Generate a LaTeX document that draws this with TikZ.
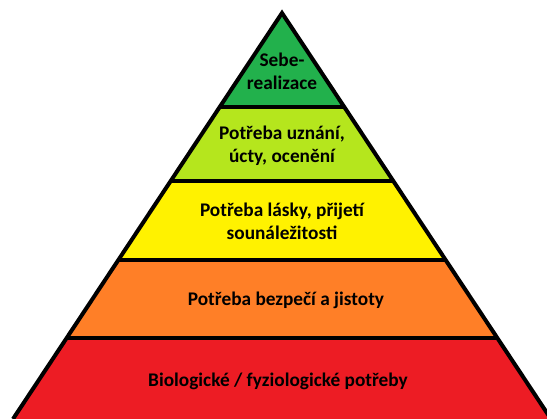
\documentclass[tikz,border=0pt]{standalone}
\usepackage{fontspec}
\setmainfont{Carlito}
\definecolor{cgreen}{HTML}{22B14C}
\definecolor{clime}{HTML}{B5E61D}
\definecolor{cyellow}{HTML}{FFF200}
\definecolor{corange}{HTML}{FF7F27}
\definecolor{cred}{HTML}{ED1C24}
\tikzset{
  edge/.style={line width=4pt, line join=miter, black},
  label/.style={font=\bfseries\fontsize{19.3}{23}\selectfont, align=center, text=black, inner sep=0pt}
}
\begin{document}
\begin{tikzpicture}[x=1pt,y=-1pt]
\useasboundingbox (0,0) rectangle (547,419);
\clip (0,0) rectangle (547,419);
\coordinate (apex) at (282,13);
\coordinate (bl) at (13,419);
\coordinate (br) at (551,419);
\begin{scope}
  \clip (apex) -- (bl) -- (br) -- cycle;
  \fill[cgreen]  (0,0)   rectangle (547,107);
  \fill[clime]   (0,107) rectangle (547,181);
  \fill[cyellow] (0,181) rectangle (547,260);
  \fill[corange] (0,260) rectangle (547,338);
  \fill[cred]    (0,338) rectangle (547,430);
  \draw[edge] (0,107) -- (547,107);
  \draw[edge] (0,181) -- (547,181);
  \draw[edge] (0,260) -- (547,260);
  \draw[edge] (0,338) -- (547,338);
\end{scope}
\draw[edge] (bl) -- (apex) -- (br);
\node[label] (t1) at (282,71)  {Sebe-\\realizace};
\node[label] (t2) at (282,146) {Potřeba uznání,\\úcty, ocenění};
\node[label] (t3) at (282,221) {Potřeba lásky, přijetí\\sounáležitosti};
\node[label] (t4) at (286,300) {Potřeba bezpečí a jistoty};
\node[label] (t5) at (278,381) {Biologické / fyziologické potřeby};
\end{tikzpicture}
\end{document}
